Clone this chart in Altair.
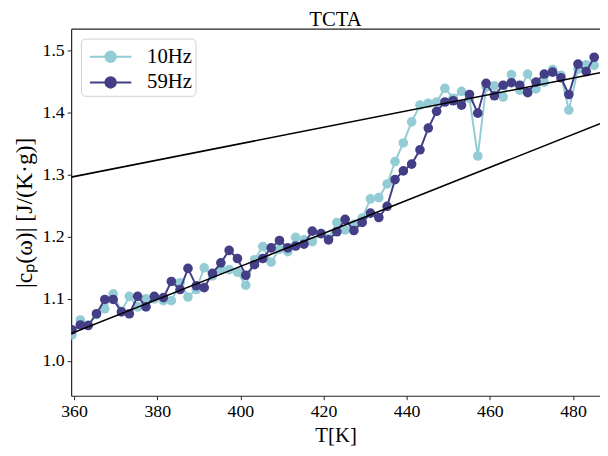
import altair as alt
import pandas as pd

# Temperatures (K) of the measurement points
temps = [359.5, 361.5, 363.4, 365.4, 367.4, 369.4, 371.4, 373.3, 375.3, 377.3,
         379.3, 381.5, 383.4, 385.5, 387.4, 389.4, 391.3, 393.3, 395.3, 397.3,
         399.3, 401.3, 403.4, 405.4, 407.4, 409.4, 411.4, 413.3, 415.3, 417.3,
         419.4, 421.2, 423.2, 425.2, 427.3, 429.3, 431.3, 433.3, 435.3, 437.2,
         439.2, 441.2, 443.2, 445.2, 447.2, 449.2, 451.2, 453.2, 455.1, 457.1,
         459.1, 461.1, 463.2, 465.2, 467.2, 469.1, 471.1, 473.1, 475.1, 477.1,
         479.0, 481.2, 483.2, 485.1]

cp_10hz = [1.042, 1.066, 1.058, 1.075, 1.084, 1.108, 1.080, 1.104, 1.087, 1.100,
           1.100, 1.097, 1.097, 1.126, 1.103, 1.115, 1.150, 1.137, 1.147, 1.147,
           1.143, 1.122, 1.163, 1.184, 1.159, 1.180, 1.176, 1.199, 1.195, 1.192,
           1.205, 1.197, 1.223, 1.211, 1.220, 1.230, 1.261, 1.263, 1.285, 1.321,
           1.351, 1.385, 1.412, 1.415, 1.417, 1.439, 1.423, 1.434, 1.423, 1.330,
           1.441, 1.443, 1.425, 1.461, 1.436, 1.462, 1.438, 1.449, 1.469, 1.460,
           1.404, 1.470, 1.477, 1.476]

cp_59hz = [1.050, 1.058, 1.057, 1.076, 1.099, 1.099, 1.079, 1.076, 1.104, 1.087,
           1.104, 1.102, 1.128, 1.115, 1.149, 1.121, 1.118, 1.141, 1.158, 1.178,
           1.165, 1.138, 1.155, 1.165, 1.182, 1.194, 1.182, 1.185, 1.188, 1.209,
           1.205, 1.195, 1.208, 1.228, 1.210, 1.223, 1.238, 1.231, 1.249, 1.292,
           1.306, 1.317, 1.340, 1.375, 1.402, 1.417, 1.419, 1.412, 1.429, 1.399,
           1.447, 1.427, 1.444, 1.448, 1.444, 1.432, 1.449, 1.462, 1.465, 1.456,
           1.429, 1.478, 1.466, 1.489]

series_names = ["10Hz", "59Hz"]
series_colors = ["#94ccd6", "#433e85"]

# Linear baselines (value at the ends of the temperature range)
fit_T = [359.3, 486.5]
fit_high = [1.296, 1.464]
fit_low = [1.044, 1.382]

x_ticks = [360, 380, 400, 420, 440, 460, 480]
y_ticks = [1.0, 1.1, 1.2, 1.3, 1.4, 1.5]

df = pd.DataFrame({
    "T": temps * 2,
    "cp": cp_10hz + cp_59hz,
    "series": [series_names[0]] * len(temps) + [series_names[1]] * len(temps),
})
df["order"] = list(range(len(temps))) * 2

fits = pd.DataFrame({
    "T": fit_T * 2,
    "cp": fit_high + fit_low,
    "fit": ["high", "high", "low", "low"],
})

FONT = "Liberation Serif"
AX = "#222222"

xscale = alt.Scale(domain=[359.3, 486.5], nice=False, zero=False)
yscale = alt.Scale(domain=[0.944, 1.535], nice=False, zero=False)

xaxis = alt.Axis(values=x_ticks, title="T[K]", grid=False, format="d",
                 labelFontSize=18, titleFontSize=21, labelFont=FONT, titleFont=FONT,
                 titleFontWeight="normal", labelColor="black", titleColor="black",
                 domainColor=AX, tickColor=AX, tickSize=4, labelPadding=3,
                 titlePadding=4)
xaxis_top = alt.Axis(orient="top", labels=False, ticks=False, title=None, grid=False,
                     domainColor=AX)
yaxis = alt.Axis(values=y_ticks, title="|cₚ(ω)|  [J/(K·g)]", grid=False, format=".1f",
                 labelFontSize=18, titleFontSize=24, labelFont=FONT, titleFont=FONT,
                 titleFontWeight="normal", labelColor="black", titleColor="black",
                 domainColor=AX, tickColor=AX, tickSize=4, labelPadding=3,
                 titlePadding=6)

# legend glyph: a short line with a filled dot in its middle (unit = 14.5 px)
def ring(cx, r):
    return f"M{cx - r:.3f},0a{r:.3f},{r:.3f} 0 1,0 {2 * r:.3f},0a{r:.3f},{r:.3f} 0 1,0 {-2 * r:.3f},0"

cx = 0.793
legend_path = "M-0.655,0H2.24" + "".join(ring(cx, r) for r in (0.365, 0.29, 0.21, 0.13, 0.05))

color = alt.Color("series:N",
                  scale=alt.Scale(domain=series_names, range=series_colors),
                  legend=alt.Legend(title=None, orient="top-left", offset=10,
                                    symbolType=legend_path, symbolSize=841,
                                    symbolStrokeWidth=2, labelFont=FONT,
                                    labelFontSize=21, labelColor="black",
                                    rowPadding=0, labelOffset=33,
                                    padding=3, cornerRadius=4,
                                    strokeColor="#d0d0d0", fillColor="white"))

layers = []
for i, name in enumerate(series_names):
    sub = df[df["series"] == name]
    first = i == 0
    b = alt.Chart(sub).encode(
        x=alt.X("T:Q", scale=xscale, axis=xaxis if first else None),
        y=alt.Y("cp:Q", scale=yscale, axis=yaxis),
        color=color,
        order="order:Q",
    )
    layers.append(b.mark_line(strokeWidth=2, clip=True))
    layers.append(b.mark_point(filled=True, size=95, opacity=1, clip=True).encode(
        x=alt.X("T:Q", scale=xscale, axis=None)))

fit_layer = alt.Chart(fits).mark_line(color="black", strokeWidth=1.6, clip=True).encode(
    x=alt.X("T:Q", scale=xscale, axis=xaxis_top),
    y=alt.Y("cp:Q", scale=yscale, axis=yaxis),
    detail="fit:N",
)
layers.append(fit_layer)

chart = alt.layer(*layers).resolve_axis(x="independent").properties(
    width=536,
    height=372,
    title=alt.Title("TCTA", font=FONT, fontSize=21, fontWeight="normal",
                    color="black", offset=4, dy=5),
    autosize=alt.AutoSizeParams(type="none"),
    padding={"left": 64, "top": 18, "right": 0, "bottom": 50},
).configure_view(stroke=None).configure_axis(
    domainWidth=1.2, tickWidth=1
)

chart.save("out.html", embed_options={"renderer": "svg", "actions": False})
